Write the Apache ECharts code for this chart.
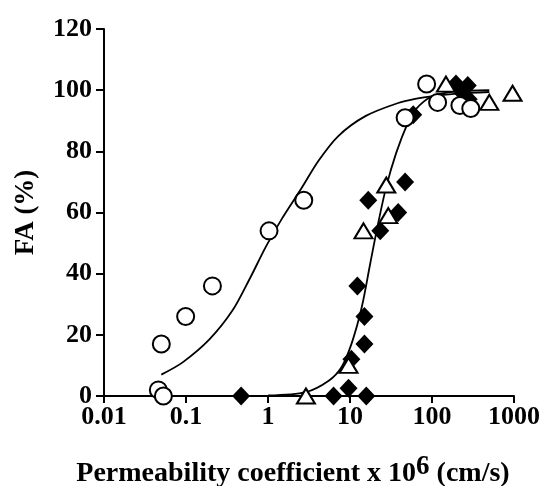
<!DOCTYPE html>
<html>
<head>
<meta charset="utf-8">
<script src="https://cdn.jsdelivr.net/npm/echarts@6/dist/echarts.min.js"></script>
<style>
  html, body { margin: 0; padding: 0; background: #fff; }
  #chart { width: 544px; height: 486px; }
</style>
</head>
<body>
<div id="chart"></div>
<script>
// tick labels
var xTicks = ['0.01', '0.1', '1', '10', '100', '1000']
var yTicks = [0, 20, 40, 60, 80, 100, 120]

// open circles [P, FA]
var circles = [
  [0.046, 2], [0.053, 0], [0.050, 17], [0.099, 26], [0.21, 36],
  [1.03, 54], [2.73, 64], [47, 91], [86, 102], [117, 96],
  [219, 95], [297, 94]
]
// filled diamonds
var diamonds = [
  [0.47, 0], [6.3, 0], [9.6, 2.5], [15.8, 0], [10.4, 12], [15, 17],
  [15, 26], [12.3, 36], [16.7, 64], [47, 70], [38.7, 60], [23.4, 54],
  [59, 92], [196, 102], [238, 99], [273, 101.5], [252, 96], [280, 97]
]
// open triangles
var triangles = [
  [2.9, 0], [9.6, 10], [27.7, 69], [29.3, 59], [14.6, 54],
  [148, 102], [500, 96], [960, 99]
]
// fitted curve through circles
var fitCircles = [
  [0.050, 7], [0.091, 11], [0.193, 18.5], [0.37, 28], [0.59, 38],
  [0.95, 49], [1.48, 58], [2.57, 68], [4.15, 77], [7.2, 85],
  [15.4, 91.5], [38.7, 95.8], [67, 97.3], [98, 98], [200, 98.9], [500, 99.4]
]
// fitted curve through diamonds / triangles
var fitDiamonds = [
  [1, 0.2], [2.9, 1.3], [5.5, 5], [7.9, 9.5], [10.5, 17.3], [13.9, 29],
  [17.7, 43.5], [22.1, 56.6], [27.6, 68.3], [36.6, 79.5], [51, 89.5],
  [62, 93.5], [100, 98], [200, 99.6], [500, 100]
]

var font = 'Liberation Serif'
var myChart = echarts.init(document.getElementById('chart'))
var option = {
  animation: false,
  grid: { left: 104, right: 30, top: 29, bottom: 90, outerBoundsMode: 'none' },
  xAxis: {
    type: 'log',
    logBase: 10,
    min: 0.01,
    max: 1000,
    name: '{a|Permeability coefficient x 10}{s|6}{a| (cm/s)}',
    nameLocation: 'middle',
    nameGap: 58,
    nameTextStyle: {
      padding: [0, 32, 0, 0],
      rich: {
        a: { fontFamily: font, fontWeight: 'bold', fontSize: 28, color: '#000' },
        s: { fontFamily: font, fontWeight: 'bold', fontSize: 27, color: '#000', padding: [0, 0, 12, 0] }
      }
    },
    axisLine: { lineStyle: { color: '#000', width: 2 } },
    axisTick: { length: 7, lineStyle: { color: '#000', width: 2 } },
    axisLabel: {
      margin: 8,
      color: '#000',
      fontFamily: font,
      fontWeight: 'bold',
      fontSize: 26,
      formatter: function (v, i) { return xTicks[i] }
    },
    splitLine: { show: false },
    minorTick: { show: false }
  },
  yAxis: {
    type: 'value',
    min: yTicks[0],
    max: yTicks[yTicks.length - 1],
    interval: 20,
    name: 'FA (%)',
    nameLocation: 'middle',
    nameGap: 64,
    nameTextStyle: { fontFamily: font, fontWeight: 'bold', fontSize: 27, color: '#000' },
    axisLine: { show: true, lineStyle: { color: '#000', width: 2 } },
    axisTick: { show: true, length: 8, lineStyle: { color: '#000', width: 2 } },
    axisLabel: {
      margin: 12,
      color: '#000',
      fontFamily: font,
      fontWeight: 'bold',
      fontSize: 26
    },
    splitLine: { show: false }
  },
  series: [
    {
      type: 'line',
      data: fitCircles,
      smooth: 0.3,
      symbol: 'none',
      lineStyle: { color: '#000', width: 1.8 },
      z: 1
    },
    {
      type: 'line',
      data: fitDiamonds,
      smooth: 0.3,
      symbol: 'none',
      lineStyle: { color: '#000', width: 1.8 },
      z: 1
    },
    {
      type: 'scatter',
      data: diamonds,
      symbol: 'diamond',
      symbolSize: [18, 19],
      itemStyle: { color: '#000', opacity: 1 },
      z: 3
    },
    {
      type: 'scatter',
      data: triangles,
      symbol: 'triangle',
      symbolSize: [18, 15],
      itemStyle: { color: '#fff', borderColor: '#000', borderWidth: 2, opacity: 1 },
      z: 4
    },
    {
      type: 'scatter',
      data: circles,
      symbol: 'circle',
      symbolSize: 17,
      itemStyle: { color: '#fff', borderColor: '#000', borderWidth: 2, opacity: 1 },
      z: 5
    }
  ]
}
option && myChart.setOption(option)
window.addEventListener('resize', function () {
  myChart.resize()
})
</script>
</body>
</html>
